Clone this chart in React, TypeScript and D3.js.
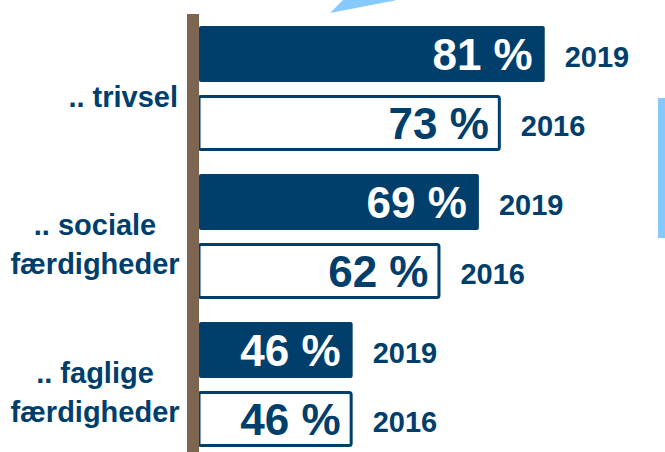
import React from "react";
import * as d3 from "d3";

const categories: string[][] = [[".. trivsel"], [".. sociale", "færdigheder"], [".. faglige", "færdigheder"]];
const years: string[] = ["2019", "2016"];
const values2019: number[] = [81, 69, 46];
const values2016: number[] = [73, 62, 46];

const W = 665;
const H = 452;
const DARK = "#003e6b";
const BROWN = "#7d6651";
const LIGHT = "#85c9ff";
const FONT = "'Liberation Sans', Arial, Helvetica, sans-serif";

export default function App() {
  const x = d3.scaleLinear().domain([18, 100]).range([199, 649]);
  const y = d3
    .scaleBand<number>()
    .domain(d3.range(categories.length))
    .range([26, 26 + 148 * 3])
    .paddingInner(0)
    .paddingOuter(0);
  const sub = d3.scaleBand<string>().domain(years).range([0, 125]).paddingInner(0.19);
  const bh = sub.bandwidth();

  const series = [values2019, values2016];

  return (
    <svg
      width={W}
      height={H}
      style={{ position: "absolute", left: 0, top: 0, background: "#fff" }}
      fontFamily={FONT}
    >
      {/* decorative fragments */}
      <path d="M330,13 L343,0 L396,0 Q390,2 392,1 Z" fill={LIGHT} />
      <rect x={658} y={98} width={7} height={140} fill={LIGHT} />

      {categories.map((lines, i) => {
        const top = y(i) as number;
        const cy = top + 62.5 + 8;
        const lh = 39;
        const multi = lines.length > 1;
        const firstBase = cy + 10 - ((lines.length - 1) * lh) / 2;
        return (
          <g key={"g" + i}>
            {years.map((yr, j) => {
              const v = series[j][i];
              const by = top + (sub(yr) as number);
              const xe = x(v);
              const filled = j === 0;
              return (
                <g key={yr}>
                  {filled ? (
                    <rect x={x.range()[0]} y={by} width={xe - x.range()[0]} height={bh} fill={DARK} rx={2} />
                  ) : (
                    <rect
                      x={x.range()[0]}
                      y={by + 1.5}
                      width={xe - x.range()[0] - 1.5}
                      height={bh - 3}
                      fill="#fff"
                      stroke={DARK}
                      strokeWidth={3}
                      rx={2}
                    />
                  )}
                  <text
                    x={xe - 12}
                    y={by + bh / 2 + 16}
                    textAnchor="end"
                    fontSize={44}
                    fontWeight="bold"
                    fill={filled ? "#fff" : DARK}
                  >
                    {v + " %"}
                  </text>
                  <text x={xe + 20} y={by + bh / 2 + 13} fontSize={29} fontWeight="bold" fill={DARK}>
                    {yr}
                  </text>
                </g>
              );
            })}
            <text
              fontSize={29}
              fontWeight="bold"
              fill={DARK}
              textAnchor={multi ? "middle" : "end"}
            >
              {lines.map((l, k) => (
                <tspan key={k} x={multi ? 95 : 178} y={firstBase + k * lh}>
                  {l}
                </tspan>
              ))}
            </text>
          </g>
        );
      })}

      {/* axis */}
      <rect x={187} y={14} width={12} height={H - 14} fill={BROWN} />
    </svg>
  );
}
